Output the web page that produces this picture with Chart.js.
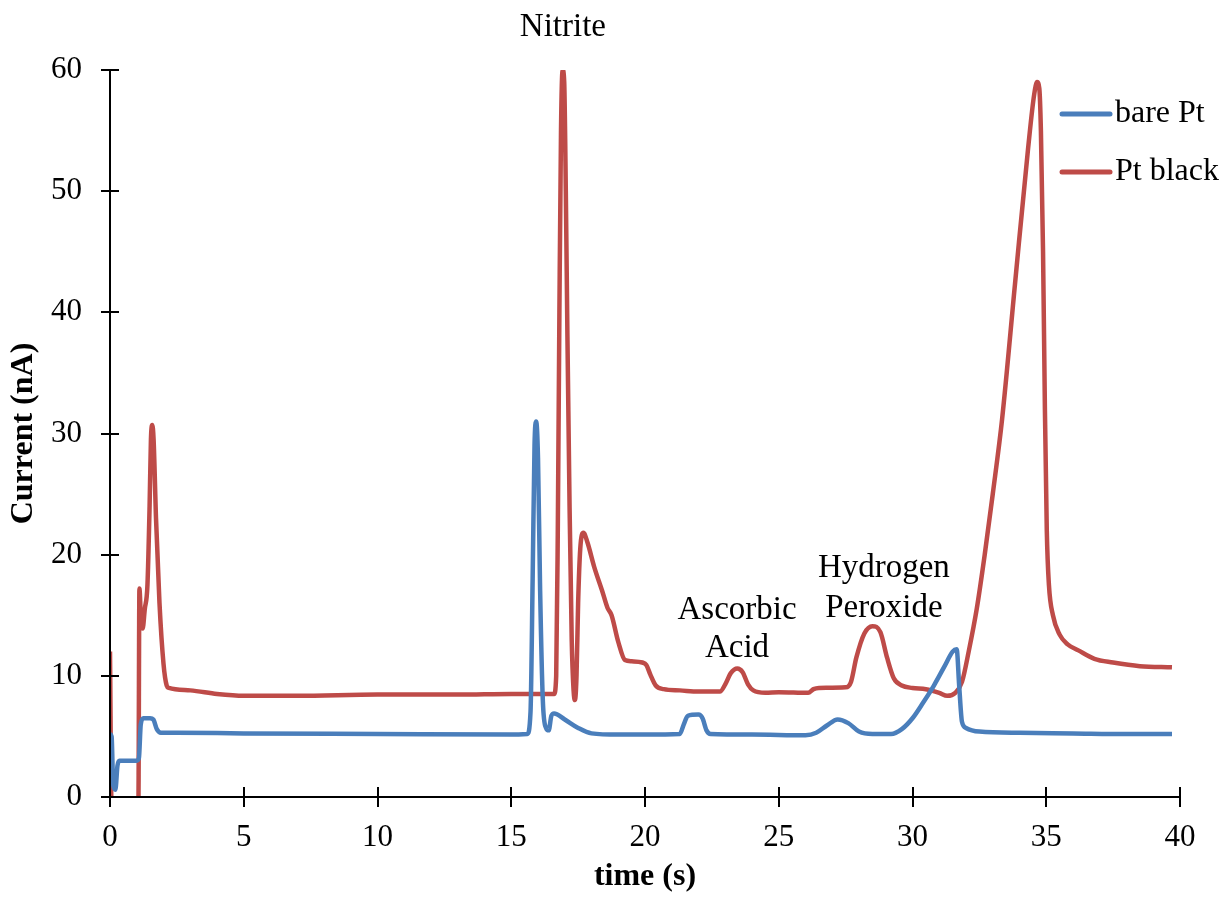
<!DOCTYPE html>
<html>
<head>
<meta charset="utf-8">
<script src="https://cdn.jsdelivr.net/npm/chart.js@4"></script>
<style>
  html, body { margin: 0; padding: 0; background: #fff; }
  #wrap { width: 1230px; height: 899px; }
</style>
</head>
<body>
<div id="wrap"><canvas id="chart" width="1230" height="899"></canvas></div>
<script>
// bare Pt trace
const bareTime = [0, 0.06, 0.12, 0.2, 0.28, 0.35, 0.5, 1.0, 1.08, 1.15, 1.25, 1.5, 1.62, 1.75, 1.9, 2.5, 5, 10, 15,
  15.6, 15.72, 15.8, 15.87, 15.93, 16.0, 16.08, 16.18, 16.3, 16.4, 16.5, 16.6, 17.0, 17.5, 18.0, 19, 20,
  21.3, 21.45, 21.6, 22.0, 22.15, 22.3, 22.45, 24, 26, 26.4, 26.8, 27.2, 27.6, 28.0, 28.5, 29.2, 29.6, 30.0,
  30.4, 30.8, 31.2, 31.5, 31.65, 31.75, 31.85, 32.0, 32.5, 34, 36, 38, 39.7];
const bareCurrent = [5.2, 5.0, 1.0, 0.6, 2.6, 3.0, 3.0, 3.0, 3.2, 6.0, 6.5, 6.5, 6.4, 5.6, 5.3, 5.3, 5.25, 5.2, 5.15,
  5.2, 7, 18, 29, 31, 28, 17, 8, 5.7, 5.5, 6.7, 6.9, 6.4, 5.7, 5.25, 5.15, 5.15,
  5.2, 6.0, 6.7, 6.8, 6.5, 5.5, 5.2, 5.15, 5.1, 5.3, 5.9, 6.4, 6.1, 5.4, 5.2, 5.2, 5.6, 6.5,
  7.8, 9.2, 10.8, 12.0, 12.2, 9, 6.2, 5.7, 5.4, 5.3, 5.25, 5.2, 5.2];

// Pt black trace (off-scale below zero between 0.06 s and 1.06 s)
const blackTime = [0, 0.06, 1.06, 1.1, 1.16, 1.22, 1.3, 1.4, 1.48, 1.53, 1.58, 1.63, 1.72, 1.85, 2.0, 2.12, 2.2,
  3, 4, 5, 7, 10, 13, 15, 16.6, 16.68, 16.74, 16.8, 16.86, 16.92, 16.98, 17.04, 17.1, 17.18, 17.26, 17.33,
  17.38, 17.44, 17.5, 17.58, 17.7, 17.85, 18.1, 18.4, 18.6, 18.75, 19.0, 19.25, 19.5, 19.9, 20.05, 20.2,
  20.4, 20.7, 21.3, 22.0, 22.8, 23.0, 23.2, 23.45, 23.65, 23.85, 24.05, 24.5, 25, 26.1, 26.3, 26.5, 27.5,
  27.7, 27.9, 28.2, 28.5, 28.8, 29.05, 29.3, 29.6, 30, 30.5, 31, 31.3, 31.6, 31.85, 32.1, 32.4, 32.7, 33.0,
  33.35, 33.83, 34.32, 34.55, 34.66, 34.74, 34.8, 34.88, 34.95, 35.02, 35.1, 35.25, 35.5, 35.8, 36.2, 36.8,
  37.5, 38.5, 39.7];
const blackCurrent = [12, -1, -1, 17.2, 14.5, 13.9, 15.5, 17.5, 24, 29.5, 30.7, 29.5, 23, 16, 11, 9.2, 9.0,
  8.8, 8.5, 8.35, 8.35, 8.45, 8.45, 8.5, 8.5, 10, 22, 40, 55, 60, 59, 50, 38, 24, 13, 8.8,
  8.0, 10, 16, 20.5, 21.8, 21, 19, 17, 15.6, 15, 12.8, 11.3, 11.2, 11.1, 10.9, 10.1,
  9.2, 8.9, 8.8, 8.7, 8.7, 9.3, 10.2, 10.6, 10.3, 9.3, 8.8, 8.6, 8.65, 8.6, 8.9, 9.0, 9.05,
  9.5, 11.5, 13.5, 14.1, 13.6, 11.5, 9.8, 9.2, 9.0, 8.9, 8.6, 8.35, 8.6, 9.5, 12, 15.5, 20, 25,
  31.2, 42.3, 53.5, 58, 59, 58.5, 55, 45, 32, 22, 17.5, 15, 13.4, 12.6, 12.1, 11.4,
  11.1, 10.8, 10.7];

const xTicks = [0, 5, 10, 15, 20, 25, 30, 35, 40];
const yTicks = [0, 10, 20, 30, 40, 50, 60];

const seriesNames = ["bare Pt", "Pt black"];
const seriesColors = ["#4A7EBB", "#BE4B48"];

// peak labels: text lines, x (s), y (nA)
const notes = [
  { lines: ["Nitrite"], x: 16.93, y: [63.5] },
  { lines: ["Ascorbic", "Acid"], x: 23.44, y: [15.4, 12.3] },
  { lines: ["Hydrogen", "Peroxide"], x: 28.93, y: [18.9, 15.6] }
];

const serif = "'Liberation Serif', 'Times New Roman', serif";

function toPoints(xs, ys) {
  return xs.map((x, i) => ({ x: x, y: ys[i] }));
}

// axis lines and crossing tick marks, drawn over the traces
const crossTicks = {
  id: "crossTicks",
  afterDatasetsDraw(chart) {
    const ctx = chart.ctx;
    const xs = chart.scales.x;
    const ys = chart.scales.y;
    const area = chart.chartArea;
    ctx.save();
    ctx.strokeStyle = "#000";
    ctx.lineWidth = 2;
    ctx.beginPath();
    ctx.moveTo(area.left, area.top);
    ctx.lineTo(area.left, area.bottom);
    ctx.lineTo(area.right, area.bottom);
    ctx.stroke();
    xTicks.forEach((t) => {
      const px = Math.round(xs.getPixelForValue(t));
      ctx.beginPath();
      ctx.moveTo(px, area.bottom - 10);
      ctx.lineTo(px, area.bottom + 10);
      ctx.stroke();
    });
    yTicks.forEach((t) => {
      const py = Math.round(ys.getPixelForValue(t));
      ctx.beginPath();
      ctx.moveTo(area.left - 9, py);
      ctx.lineTo(area.left + 9, py);
      ctx.stroke();
    });
    ctx.restore();
  }
};

const labelsAndLegend = {
  id: "labelsAndLegend",
  afterDraw(chart) {
    const ctx = chart.ctx;
    const xs = chart.scales.x;
    const ys = chart.scales.y;
    const area = chart.chartArea;
    ctx.save();
    ctx.fillStyle = "#000";
    ctx.font = "33px " + serif;
    ctx.textAlign = "center";
    ctx.textBaseline = "middle";
    notes.forEach((n) => {
      n.lines.forEach((line, i) => {
        ctx.fillText(line, xs.getPixelForValue(n.x), ys.getPixelForValue(n.y[i]));
      });
    });

    // legend in the top right corner, over the plot
    const lx = area.right - 118;
    ctx.font = "32px " + serif;
    seriesNames.forEach((name, i) => {
      const ly = area.top + 44 + i * 58;
      ctx.strokeStyle = seriesColors[i];
      ctx.lineWidth = 5;
      ctx.lineCap = "round";
      ctx.beginPath();
      ctx.moveTo(lx, ly);
      ctx.lineTo(lx + 48, ly);
      ctx.stroke();
      ctx.textAlign = "left";
      ctx.fillText(name, lx + 53, ly);
    });
    ctx.restore();
  }
};

new Chart(document.getElementById("chart").getContext("2d"), {
  type: "line",
  data: {
    datasets: [
      {
        label: seriesNames[0],
        data: toPoints(bareTime, bareCurrent),
        borderColor: seriesColors[0],
        borderWidth: 4.5,
        pointRadius: 0,
        cubicInterpolationMode: "monotone",
        fill: false
      },
      {
        label: seriesNames[1],
        data: toPoints(blackTime, blackCurrent),
        borderColor: seriesColors[1],
        borderWidth: 4.5,
        pointRadius: 0,
        cubicInterpolationMode: "monotone",
        fill: false
      }
    ]
  },
  options: {
    responsive: false,
    animation: false,
    layout: { padding: { top: 70, right: 50, left: 0, bottom: 0 } },
    plugins: {
      legend: { display: false },
      tooltip: { enabled: false }
    },
    scales: {
      x: {
        type: "linear",
        min: 0,
        max: 40,
        afterFit(scale) { scale.height = 102; },
        afterBuildTicks(scale) { scale.ticks = xTicks.map((v) => ({ value: v })); },
        grid: { display: false, drawTicks: true, tickLength: 9 },
        border: { display: false },
        ticks: { color: "#000", font: { family: serif, size: 31 }, padding: 13, maxRotation: 0 },
        title: {
          display: true,
          text: "time (s)",
          color: "#000",
          font: { family: serif, size: 32, weight: "bold" },
          padding: { top: 0, bottom: 3 }
        }
      },
      y: {
        min: 0,
        max: 60,
        afterFit(scale) { scale.width = 110; },
        afterBuildTicks(scale) { scale.ticks = yTicks.map((v) => ({ value: v })); },
        grid: { display: false, drawTicks: true, tickLength: 9 },
        border: { display: false },
        ticks: { color: "#000", font: { family: serif, size: 31 }, padding: 19 },
        title: {
          display: true,
          text: "Current (nA)",
          color: "#000",
          font: { family: serif, size: 32, weight: "bold" },
          padding: { top: 5, bottom: 0 }
        }
      }
    }
  },
  plugins: [crossTicks, labelsAndLegend]
});
</script>
</body>
</html>
